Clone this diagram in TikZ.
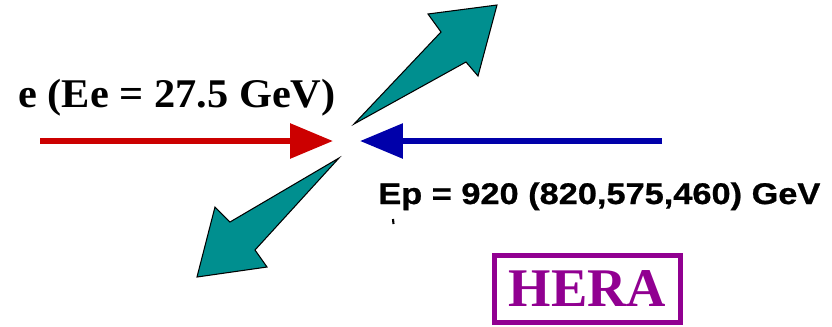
\documentclass[tikz,border=0pt]{standalone}
\usepackage{fontspec}
\setmainfont{Liberation Serif}
\newfontfamily\serifwide[FakeStretch=1.04]{Liberation Serif}
\newfontfamily\arialwide[FakeStretch=1.15, FakeBold=0.8]{Liberation Sans}
\usepackage{tikz}
\usetikzlibrary{
    positioning,                      % right=of, below=of, etc.
    arrows.meta                       % puntas (Triangle)
}
\definecolor{beam_red}{RGB}{204,0,0}
\definecolor{beam_blue}{RGB}{0,0,170}
\definecolor{jet_teal}{RGB}{0,143,143}
\definecolor{hera_purple}{RGB}{145,0,145}
\tikzset{
    beam/.style={
        line width=0.12cm,
        -{Triangle[length=0.86cm, width=0.68cm]}
    },
    jet/.style={
        fill=jet_teal, draw=black, line width=0.6pt, line join=miter
    },
    label/.style={
        inner sep=0pt, anchor=base west
    },
    logo/.style={
        draw=hera_purple, line width=0.1cm, text=hera_purple,
        minimum width=3.72cm, minimum height=1.34cm,
        font=\fontsize{31}{33}\selectfont\bfseries
    }
}

\begin{document}
\begin{tikzpicture}[x=0.02cm, y=-0.02cm]

        \useasboundingbox (0,0) rectangle (832,326);

        % Haces e y p
        \coordinate (estart) at (40,141);
        \coordinate (etip) at (333,141);
        \coordinate (pstart) at (662,141);
        \coordinate (ptip) at (360,141);
        \draw[beam, beam_red] (estart) -- (etip);
        \draw[beam, beam_blue] (pstart) -- (ptip);

        % Chorros salientes
        \draw[jet] (354,124) -- (441,32) -- (428,14) -- (497,5)
            -- (478,76) -- (466,62) -- cycle;
        \draw[jet] (339,158) -- (230,222) -- (215,207) -- (197,277)
            -- (267,267) -- (255,250) -- cycle;

        % Etiquetas
        \node[label, font=\serifwide\fontsize{23.2}{25}\selectfont\bfseries]
            (elabel) at (18,107) {e (Ee = 27.5 GeV)};
        \node[label, font=\arialwide\fontsize{17}{19}\selectfont\bfseries]
            (plabel) at (378,204) {Ep = 920 (820,575,460) GeV};
        \draw[line width=1.2pt] (393,219) -- (393.5,224);

        % Logo
        \node[logo] (hera) at (587.5,289) {HERA};

    \end{tikzpicture}
\end{document}
